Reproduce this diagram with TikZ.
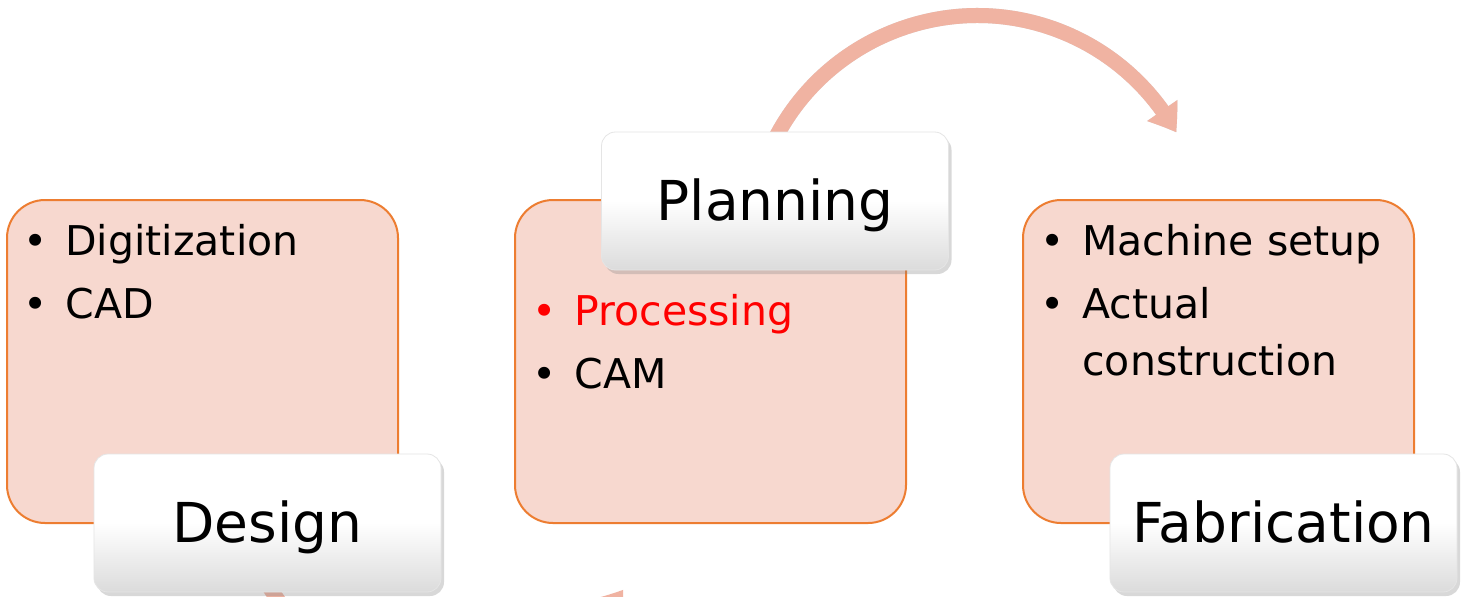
\documentclass[tikz,border=0pt]{standalone}
\usepackage{fontspec}
\setmainfont{DejaVu Sans}
\usetikzlibrary{arrows.meta,bending,shadows}
\definecolor{boxfill}{HTML}{F7D8CF}
\definecolor{boxline}{HTML}{ED7D31}
\definecolor{arcfill}{HTML}{F0B3A2}
\definecolor{hot}{HTML}{FF0000}
\tikzset{
  stage/.style={draw=boxline, line width=1pt, fill=boxfill, rounded corners=19pt,
    minimum width=195.5pt, minimum height=161.5pt, inner sep=0pt},
  tag/.style={draw=black!10, line width=0.4pt, rounded corners=7pt,
    top color=white, bottom color=black!14, middle color=white,
    text width=173.5pt, align=center, inner sep=0pt,
    text height=44pt, text depth=25pt, anchor=base,
    font=\fontsize{27.5pt}{33pt}\selectfont,
    drop shadow={shadow xshift=1.5pt, shadow yshift=-2pt, opacity=0.3}},
  item/.style={anchor=base west, inner sep=0pt, font=\fontsize{20.5pt}{27.5pt}\selectfont},
  flow/.style={draw=arcfill, line width=7.5pt, -{Triangle[width=17.5pt,length=13pt,bend]}},
  flowshade/.style={draw=black, line width=7.5pt, -{Triangle[width=17.5pt,length=13pt,bend]}},
}
\newcommand{\bul}{\llap{•\hspace{9pt}}}
\begin{document}
\begin{tikzpicture}[x=0.5pt, y=-0.5pt]
  \fill[white] (0,0) rectangle (1461,596);
  \useasboundingbox (0,0) rectangle (1461,596);

  % curved arrows between the stages
  \coordinate (loopT) at (774.5,139.8);
  \coordinate (loopB) at (266,581.5);
  \begin{scope}[transparency group, opacity=0.15, xshift=1pt, yshift=-1.5pt]
    \draw[flowshade] (loopT) arc[start angle=153, end angle=29.1, radius=113.8pt];
  \end{scope}
  \draw[flow] (loopT) arc[start angle=153, end angle=29.1, radius=113.8pt];
  \draw[flow] (loopB) arc[start angle=210, end angle=327.4, radius=104.5pt];

  % stage boxes
  \node[stage] (design) at (202.5,361.5) {};
  \node[stage] (plan)   at (710.5,361.5) {};
  \node[stage] (fab)    at (1218.5,361.5) {};

  % bullet items
  \node[item] (d1) at (65,255) {\bul Digitization};
  \node[item] (d2) at (65,318) {\bul CAD};
  \node[item, text=hot] (p1) at (574,325) {\bul Processing};
  \node[item] (p2) at (574,388) {\bul CAM};
  \node[item] (f1) at (1082,255) {\bul Machine setup};
  \node[item] (f2) at (1082,318) {\bul Actual};
  \node[item] (f3) at (1082,375) {construction};

  % stage titles
  \node[tag] (designT) at (267.5,542) {Design};
  \node[tag] (planT)   at (775,220)   {Planning};
  \node[tag] (fabT)    at (1283.5,542) {Fabrication};
\end{tikzpicture}
\end{document}
